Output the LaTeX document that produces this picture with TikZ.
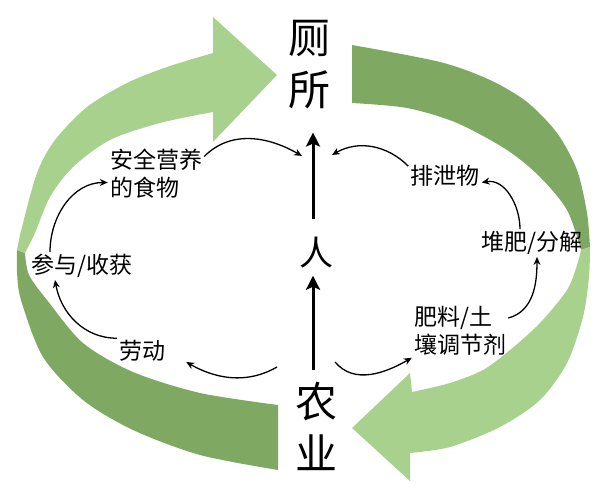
\documentclass[tikz,border=0pt]{standalone}
\usepackage{fontspec}
\setmainfont{Noto Sans CJK SC}
\usetikzlibrary{arrows.meta}
\definecolor{LeafLight}{RGB}{169,209,142}
\definecolor{LeafDark}{RGB}{127,168,99}
\tikzset{
  >=latex,
  % bande del ciclo
  band light/.style={fill=LeafLight,draw=none},
  band dark/.style={fill=LeafDark,draw=none},
  % testi
  big label/.style={font=\fontsize{42}{52}\selectfont,align=center,inner sep=2pt},
  small label/.style={font=\fontsize{23}{28}\selectfont,align=left,inner sep=2pt},
  % frecce
  main arrow/.style={-{Stealth[length=14pt,width=14pt,inset=3pt]},line width=3pt},
  flow arrow/.style={-{Stealth[length=8pt,width=7pt]},line width=1.3pt}
}

\begin{document}
\begin{tikzpicture}[x=1pt,y=1pt]
    \useasboundingbox (0,0) rectangle (600,497);
    % banda scura in alto a destra
    \fill[band dark] plot[smooth] coordinates {(352,452) (440,435) (490,417) (527,395) (557,364) (577,327) (587,284) (590,250)}
      -- plot[smooth] coordinates {(581,247) (567,287) (540,320) (507,347) (457,374) (407,389) (352,394)} -- cycle;
    % freccia chiara in basso a destra
    \fill[band light] plot[smooth] coordinates {(581,247) (577,232) (567,207) (540,174) (510,147) (483,127) (450,114) (412,105)}
      -- (410,124) -- (352,69) -- (410,16)
      -- plot[smooth] coordinates {(410,44) (450,50) (500,70) (540,97) (567,134) (583,180) (589,220) (590,250)} -- cycle;
    % banda scura in basso a sinistra
    \fill[band dark] plot[smooth] coordinates {(278,27) (200,42) (133,67) (83,97) (43,140) (21,197) (17,225) (17,247)}
      -- plot[smooth] coordinates {(25,244) (29,222) (47,197) (83,154) (133,125) (200,104) (278,92)} -- cycle;
    % freccia chiara in alto a sinistra
    \fill[band light] plot[smooth] coordinates {(17,247) (22,270) (37,324) (55,357) (87,390) (127,414) (167,430) (213,444)}
      -- (213,480) -- (277,422) -- (213,355)
      -- plot[smooth] coordinates {(213,385) (160,374) (110,357) (73,330) (50,300) (35,264) (25,244)} -- cycle;

    \node[big label] (toilet) at (309,432) {厕\\所};
    \node[font=\fontsize{34}{40}\selectfont,inner sep=2pt] (person) at (316,244) {人};
    \node[big label] (farm) at (316,71) {农\\业};
    \node[small label] (food) at (156,323) {安全营养\\的食物};
    \node[small label] (waste) at (445,321) {排泄物};
    \node[small label] (compost) at (532,254) {堆肥/分解};
    \node[small label] (fert) at (460,166) {肥料/土\\壤调节剂};
    \node[small label] (labour) at (142,146) {劳动};
    \node[small label] (harvest) at (82,231) {参与/收获};

    \coordinate (toiletL) at (302,341);
    \coordinate (toiletR) at (332,342);
    \coordinate (farmL) at (277,130);
    \coordinate (farmR) at (335,135);

    \draw[main arrow,shorten <=16pt,shorten >=21pt] ([xshift=-3pt]person.north) -- ([xshift=4pt]toilet.south);
    \draw[main arrow,shorten <=10pt,shorten >=5pt] ([xshift=-3pt]farm.north) -- ([xshift=-3pt]person.south);

    \draw[flow arrow] (food.20) to[out=45,in=150] (toiletL);
    \draw[flow arrow] (waste.165) to[out=135,in=30] (toiletR);
    \draw[flow arrow] ([xshift=-12pt]compost.north) to[out=90,in=10] (waste.-10);
    \draw[flow arrow] (fert.15) to[out=15,in=270] ([xshift=5pt]compost.south);
    \draw[flow arrow] (farmR) to[out=-50,in=210] (fert.south west);
    \draw[flow arrow,shorten >=22pt] (farmL) to[out=210,in=-30] (labour.east);
    \draw[flow arrow] (labour.north west) to[out=180,in=-80] ([xshift=-27pt]harvest.south);
    \draw[flow arrow] ([xshift=-32pt]harvest.north) to[out=90,in=180] (food.190);
\end{tikzpicture}
\end{document}
